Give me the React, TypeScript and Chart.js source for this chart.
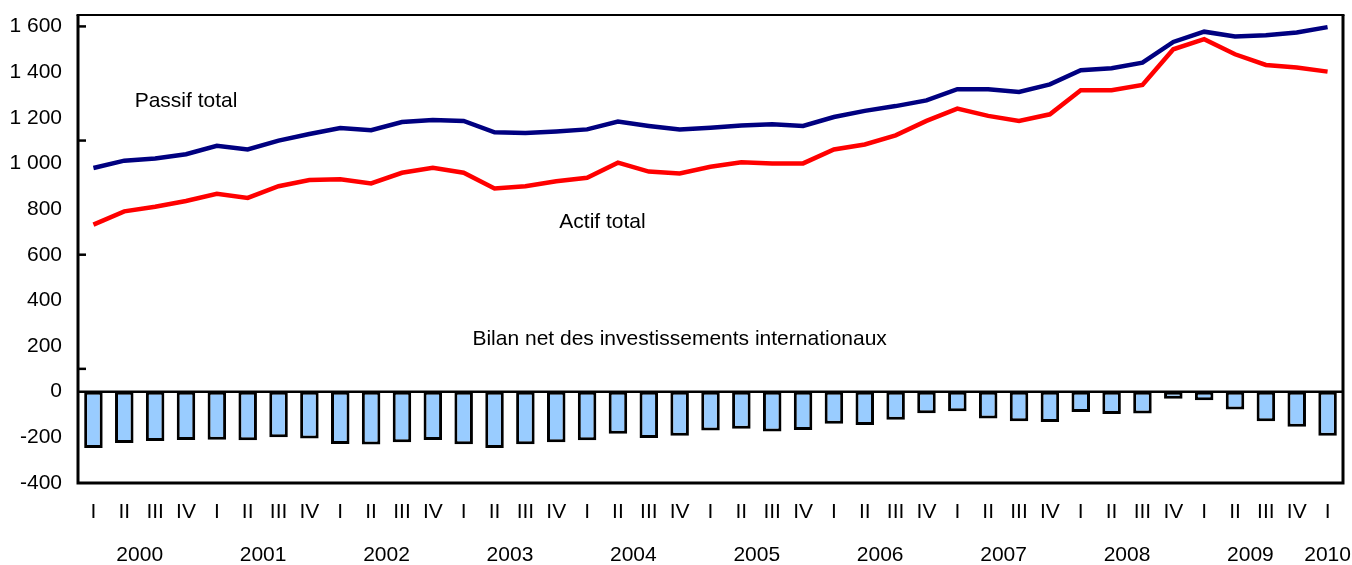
import React, { useEffect, useRef } from "react";
import { Chart, registerables } from "chart.js";

Chart.register(...registerables);

// ---------- data ----------
const quarters = [
  "I", "II", "III", "IV",
  "I", "II", "III", "IV",
  "I", "II", "III", "IV",
  "I", "II", "III", "IV",
  "I", "II", "III", "IV",
  "I", "II", "III", "IV",
  "I", "II", "III", "IV",
  "I", "II", "III", "IV",
  "I", "II", "III", "IV",
  "I", "II", "III", "IV",
  "I",
];

const years = ["2000", "2001", "2002", "2003", "2004", "2005", "2006", "2007", "2008", "2009", "2010"];

const passifTotal = [
  980, 1012, 1021, 1040, 1077, 1061, 1100, 1129,
  1155, 1145, 1181, 1190, 1186, 1136, 1133, 1140,
  1149, 1183, 1164, 1148, 1156, 1166, 1171, 1164,
  1203, 1230, 1251, 1276, 1325, 1325, 1313, 1346,
  1408, 1417, 1441, 1532, 1577, 1556, 1561, 1573,
  1597,
];

const actifTotal = [
  732, 790, 810, 835, 867, 849, 900, 927,
  930, 912, 959, 981, 959, 890, 900, 922,
  937, 1003, 964, 956, 985, 1005, 1000, 1000,
  1061, 1083, 1123, 1186, 1240, 1208, 1186, 1215,
  1320, 1320, 1344, 1500, 1544, 1478, 1431, 1420,
  1402,
];

const bilanNet = [
  -247, -225, -216, -212, -211, -213, -200, -205,
  -229, -231, -222, -212, -230, -247, -230, -221,
  -213, -184, -203, -193, -170, -162, -174, -168,
  -140, -146, -123, -94, -86, -118, -130, -133,
  -89, -98, -96, -31, -38, -78, -130, -154,
  -193,
];

const yTickValues = [-400, -200, 0, 200, 400, 600, 800, 1000, 1200, 1400, 1600];
const yMarkValues = [1600, 1100, 600, 100];

const labelTexts = ["Passif total", "Actif total", "Bilan net des investissements internationaux"];
const labelAnchorIndex = [3, 16.5, 19];
const labelAnchorValue = [1272, 741, 228];

const FONT_FAMILY = '"Liberation Sans", Arial, Helvetica, sans-serif';
const FONT_SIZE = 21;

function fmt(v: number): string {
  const s = String(Math.abs(v)).replace(/\B(?=(\d{3})+(?!\d))/g, " ");
  return (v < 0 ? "-" : "") + s;
}

const overlayPlugin = {
  id: "overlay",
  afterDatasetsDraw(chart: any) {
    const { ctx, chartArea: a, scales } = chart;
    const x = scales.x;
    const y = scales.y;
    ctx.save();
    ctx.strokeStyle = "#000";
    ctx.lineCap = "butt";

    // zero line
    const y0 = y.getPixelForValue(0);
    ctx.lineWidth = 2.5;
    ctx.beginPath();
    ctx.moveTo(a.left, y0);
    ctx.lineTo(a.right, y0);
    ctx.stroke();

    // frame
    ctx.lineWidth = 3;
    ctx.beginPath();
    ctx.moveTo(a.left, a.top);
    ctx.lineTo(a.left, a.bottom);
    ctx.lineTo(a.right, a.bottom);
    ctx.lineTo(a.right, a.top);
    ctx.stroke();
    ctx.lineWidth = 2;
    ctx.beginPath();
    ctx.moveTo(a.left - 1.5, a.top);
    ctx.lineTo(a.right + 1.5, a.top);
    ctx.stroke();

    // inner tick marks
    ctx.lineWidth = 2.5;
    yMarkValues.forEach((v) => {
      const py = y.getPixelForValue(v);
      ctx.beginPath();
      ctx.moveTo(a.left, py);
      ctx.lineTo(a.left + 8, py);
      ctx.stroke();
    });

    // text labels
    ctx.fillStyle = "#000";
    ctx.font = `${FONT_SIZE}px ${FONT_FAMILY}`;
    ctx.textAlign = "center";
    ctx.textBaseline = "middle";
    labelTexts.forEach((t, i) => {
      ctx.fillText(t, x.getPixelForValue(labelAnchorIndex[i]), y.getPixelForValue(labelAnchorValue[i]));
    });

    // year labels under quarters
    years.forEach((yr, yi) => {
      const first = yi * 4;
      if (first > quarters.length - 1) return;
      const last = Math.min(first + 3, quarters.length - 1);
      const px = (x.getPixelForValue(first) + x.getPixelForValue(last)) / 2;
      ctx.fillText(yr, px, 555);
    });
    ctx.restore();
  },
};

export default function App() {
  const canvasRef = useRef<HTMLCanvasElement | null>(null);

  useEffect(() => {
    const canvas = canvasRef.current;
    if (!canvas) return;
    Chart.defaults.font.family = FONT_FAMILY;
    Chart.defaults.color = "#000";
    const chart = new Chart(canvas, {
      type: "bar",
      data: {
        labels: quarters,
        datasets: [
          {
            type: "line",
            label: "Passif total",
            data: passifTotal,
            borderColor: "#000080",
            borderWidth: 4.5,
            pointRadius: 0,
            tension: 0,
            fill: false,
            order: 0,
          } as any,
          {
            type: "line",
            label: "Actif total",
            data: actifTotal,
            borderColor: "#FF0000",
            borderWidth: 4.5,
            pointRadius: 0,
            tension: 0,
            fill: false,
            order: 1,
          } as any,
          {
            type: "bar",
            label: "Bilan net des investissements internationaux",
            data: bilanNet,
            backgroundColor: "#99CCFF",
            borderColor: "#000",
            borderWidth: 3,
            borderSkipped: false,
            barPercentage: 0.6,
            categoryPercentage: 1,
            order: 2,
          } as any,
        ],
      },
      options: {
        responsive: false,
        animation: false,
        events: [],
        layout: { padding: { top: 15, right: 9, left: 0, bottom: 0 } },
        plugins: {
          legend: { display: false },
          tooltip: { enabled: false },
        },
        scales: {
          x: {
            type: "category",
            offset: true,
            grid: { display: false, drawTicks: false },
            border: { display: false },
            ticks: {
              font: { size: FONT_SIZE, family: FONT_FAMILY },
              color: "#000",
              padding: 17,
              maxRotation: 0,
              autoSkip: false,
            },
            afterFit(scale: any) {
              scale.height = 82;
              scale.paddingLeft = 0;
              scale.paddingRight = 0;
            },
          },
          y: {
            type: "linear",
            min: -400,
            max: 1650,
            grid: { display: false, drawTicks: false },
            border: { display: false },
            afterBuildTicks(scale: any) {
              scale.ticks = yTickValues.map((v) => ({ value: v }));
            },
            ticks: {
              font: { size: FONT_SIZE, family: FONT_FAMILY },
              color: "#000",
              padding: 16,
              callback: (v: any) => fmt(Number(v)),
            },
            afterFit(scale: any) {
              scale.width = 78;
              scale.paddingTop = 0;
              scale.paddingBottom = 0;
            },
          },
        },
      },
      plugins: [overlayPlugin],
    });
    return () => chart.destroy();
  }, []);

  return (
    <div style={{ position: "fixed", left: 0, top: 0, width: 1352, height: 565, background: "#fff" }}>
      <canvas ref={canvasRef} width={1352} height={565} style={{ display: "block", width: 1352, height: 565 }} />
    </div>
  );
}
